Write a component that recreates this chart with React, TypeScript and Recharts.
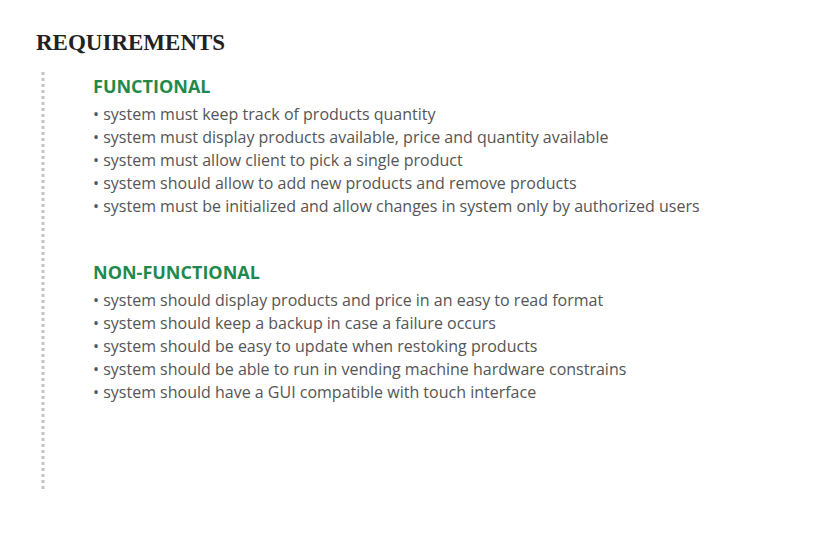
import React from 'react';
import { Surface, Text } from 'recharts';

const title = 'REQUIREMENTS';
const sections = ['FUNCTIONAL', 'NON-FUNCTIONAL'];
const functional = [
  'system must keep track of products quantity',
  'system must display products available, price and quantity available',
  'system must allow client to pick a single product',
  'system should allow to add new products and remove products',
  'system must be initialized and allow changes in system only by authorized users',
];
const nonFunctional = [
  'system should display products and price in an easy to read format',
  'system should keep a backup in case a failure occurs',
  'system should be easy to update when restoking products',
  'system should be able to run in vending machine hardware constrains',
  'system should have a GUI compatible with touch interface',
];
const lists = [functional, nonFunctional];

const W = 826;
const H = 537;
const font = '"Open Sans", sans-serif';

export default function App() {
  const sectionTop = [93, 279];
  return (
    <div style={{ position: 'absolute', left: 0, top: 0, width: W, height: H, background: '#fff' }}>
      <Surface width={W} height={H}>
        <text x={36} y={50} fontFamily='"Liberation Serif", serif' fontWeight="bold" fontSize={23} fill="#222">
          {title}
        </text>
        <line x1={43} y1={72} x2={43} y2={490} stroke="#c4c4c4" strokeWidth={3} strokeDasharray="3 3" />
        {sections.map((s, i) => (
          <g key={s}>
            <Text x={93} y={sectionTop[i]} fontFamily={font} fontWeight="bold" fontSize={18} fill="#1f8a4c">
              {s}
            </Text>
            {lists[i].map((t, j) => (
              <Text key={t} x={93} y={sectionTop[i] + 27 + j * 23} fontFamily={font} fontSize={16} fill="#555">
                {'• ' + t}
              </Text>
            ))}
          </g>
        ))}
      </Surface>
    </div>
  );
}
